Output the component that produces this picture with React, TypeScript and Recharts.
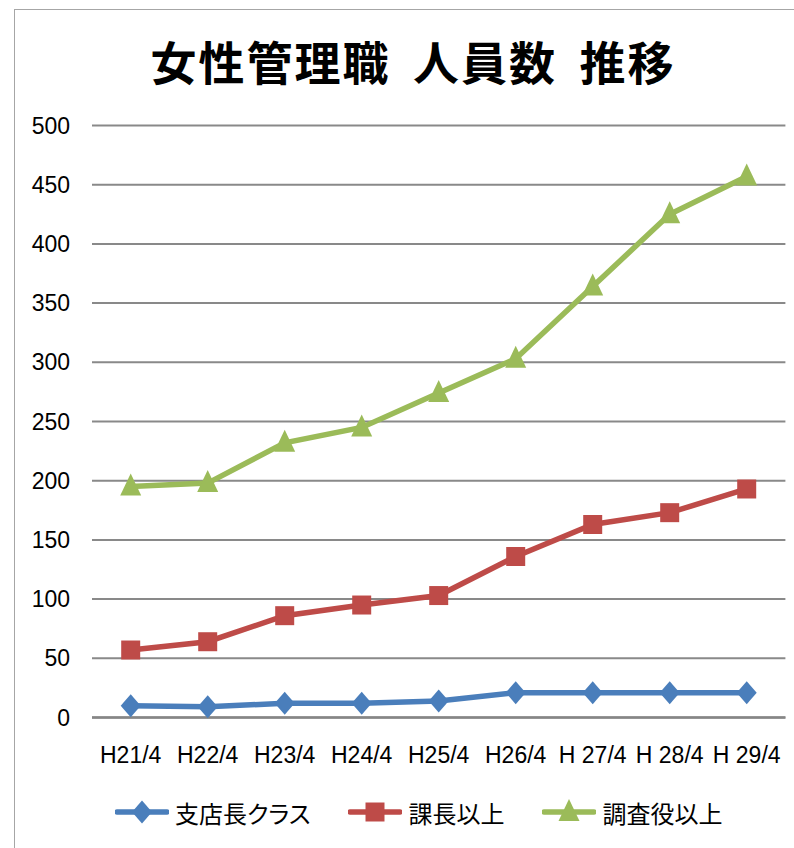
import React from 'react';
import { LineChart, Line, XAxis, YAxis, CartesianGrid } from 'recharts';

const categories = ['H21/4', 'H22/4', 'H23/4', 'H24/4', 'H25/4', 'H26/4', 'H 27/4', 'H 28/4', 'H 29/4'];
const branchManager = [10, 9, 12, 12, 14, 21, 21, 21, 21];
const sectionChief = [57, 64, 86, 95, 103, 136, 163, 173, 193];
const inspector = [195, 198, 232, 245, 274, 303, 364, 425, 457];
const yTicks = [0, 50, 100, 150, 200, 250, 300, 350, 400, 450, 500];
const seriesNames = ['支店長クラス', '課長以上', '調査役以上'];
const title = '女性管理職 人員数 推移';

const BLUE = '#4A7EBB';
const RED = '#BE4B48';
const GREEN = '#9BBB59';

const data = categories.map((c, i) => ({
  name: c,
  a: branchManager[i],
  b: sectionChief[i],
  c: inspector[i],
}));

const diamondPath = (cx: number, cy: number) =>
  `M${cx},${cy - 11.5} L${cx + 10},${cy} L${cx},${cy + 11.5} L${cx - 10},${cy} Z`;
const squarePath = (cx: number, cy: number) =>
  `M${cx - 9.5},${cy - 9.5} h19 v19 h-19 Z`;
const trianglePath = (cx: number, cy: number) =>
  `M${cx},${cy - 13} L${cx + 10.5},${cy + 9} L${cx - 10.5},${cy + 9} Z`;

const makeDot = (shape: (x: number, y: number) => string, color: string) => (p: any) => {
  if (p.cx == null || p.cy == null) return <g key={p.index} />;
  return <path key={p.index} d={shape(p.cx, p.cy)} fill={color} stroke="none" />;
};

const legendItems = [
  { name: seriesNames[0], color: BLUE, shape: diamondPath },
  { name: seriesNames[1], color: RED, shape: squarePath },
  { name: seriesNames[2], color: GREEN, shape: trianglePath },
];

export default function App() {
  return (
    <div
      style={{
        position: 'fixed',
        left: 0,
        top: 0,
        width: 794,
        height: 848,
        background: '#fff',
        overflow: 'hidden',
      }}
    >
      <div
        style={{
          position: 'absolute',
          left: 14,
          top: 9,
          width: 900,
          height: 900,
          borderLeft: '1.5px solid #a6a6a6',
          borderTop: '1.5px solid #a6a6a6',
        }}
      />
      <div
        style={{
          position: 'absolute',
          left: 0,
          top: 28,
          width: 826,
          textAlign: 'center',
          fontFamily: '"Noto Sans CJK JP"',
          fontWeight: 700,
          fontSize: 46,
          lineHeight: '64px',
          letterSpacing: 2,
          wordSpacing: 10,
          color: '#000',
          whiteSpace: 'pre',
        }}
      >
        {title}
      </div>
      <div style={{ position: 'absolute', left: 0, top: 0 }}>
        <LineChart
          width={794}
          height={848}
          data={data}
          margin={{ top: 125.5, right: 8.6, bottom: 90.5, left: 0 }}
        >
          <CartesianGrid vertical={false} stroke="#898989" strokeWidth={2} />
          <XAxis
            dataKey="name"
            interval={0}
            padding={{ left: 38.7, right: 38.7 }}
            height={40}
            tickSize={0}
            tickMargin={29}
            axisLine={{ stroke: '#868686', strokeWidth: 2.5 }}
            tickLine={false}
            tick={{ fill: '#000', fontSize: 23, fontFamily: '"Liberation Sans"' }}
          />
          <YAxis
            domain={[0, 500]}
            ticks={yTicks}
            width={92}
            tickSize={0}
            tickMargin={22}
            axisLine={false}
            tickLine={false}
            tick={{ fill: '#000', fontSize: 23, fontFamily: '"Liberation Sans"' }}
          />
          <Line
            dataKey="a"
            name={seriesNames[0]}
            stroke={BLUE}
            strokeWidth={5.5}
            dot={makeDot(diamondPath, BLUE)}
            activeDot={false}
            isAnimationActive={false}
          />
          <Line
            dataKey="b"
            name={seriesNames[1]}
            stroke={RED}
            strokeWidth={5.5}
            dot={makeDot(squarePath, RED)}
            activeDot={false}
            isAnimationActive={false}
          />
          <Line
            dataKey="c"
            name={seriesNames[2]}
            stroke={GREEN}
            strokeWidth={5.5}
            dot={makeDot(trianglePath, GREEN)}
            activeDot={false}
            isAnimationActive={false}
          />
        </LineChart>
      </div>
      <div
        style={{
          position: 'absolute',
          left: 115,
          top: 794,
          display: 'flex',
          alignItems: 'center',
          height: 36,
          fontFamily: '"Noto Sans CJK JP"',
          fontSize: 24,
          fontFeatureSettings: '"palt"',
          color: '#000',
          whiteSpace: 'nowrap',
        }}
      >
        {legendItems.map((it, i) => (
          <div
            key={it.name}
            style={{ display: 'flex', alignItems: 'center', marginRight: i < 2 ? 38 : 0 }}
          >
            <svg width={54} height={30} style={{ marginRight: 6 }}>
              <line x1={2} y1={15} x2={52} y2={15} stroke={it.color} strokeWidth={5.5} strokeLinecap="round" />
              <path d={it.shape(27, 15)} fill={it.color} />
            </svg>
            <span>{it.name}</span>
          </div>
        ))}
      </div>
    </div>
  );
}
